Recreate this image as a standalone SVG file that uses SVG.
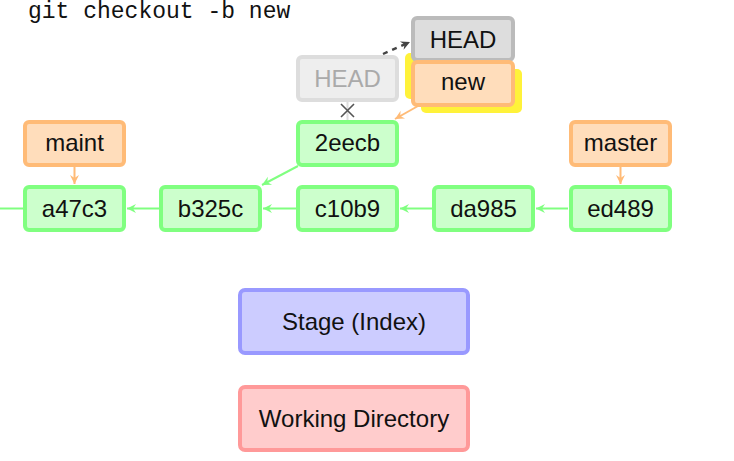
<svg xmlns="http://www.w3.org/2000/svg" width="734" height="461" viewBox="0 0 734 461">
<defs>
<style>
text{font-family:"Liberation Sans",Arial,sans-serif;font-size:24px;text-anchor:middle;fill:#111}
.commit rect{fill:#ccffcc;stroke:#80ff80;stroke-width:4}
.branch rect{fill:#ffddbb;stroke:#ffbb77;stroke-width:4}
.head rect{fill:#dddddd;stroke:#bbbbbb;stroke-width:4}
.oldhead rect{fill:#eeeeee;stroke:#dddddd;stroke-width:4}
.oldhead text{fill:#aaaaaa}
.hl{fill:#fff23a}
.gl{stroke:#80ff80;stroke-width:2;fill:none}
.ol{stroke:#ffbb77;stroke-width:2;fill:none}
.cmd{font-family:"Liberation Mono","Courier New",monospace;font-size:23px;text-anchor:start}
</style>
<marker id="ag" markerUnits="userSpaceOnUse" markerWidth="14" markerHeight="12" refX="10" refY="6" orient="auto" viewBox="0 0 14 12"><path d="M10,6 L1,1.5 L4,6 L1,10.5 Z" fill="#80ff80"/></marker>
<marker id="ao" markerUnits="userSpaceOnUse" markerWidth="14" markerHeight="12" refX="10" refY="6" orient="auto" viewBox="0 0 14 12"><path d="M10,6 L1,1.5 L4,6 L1,10.5 Z" fill="#ffbb77"/></marker>
<marker id="ad" markerUnits="userSpaceOnUse" markerWidth="14" markerHeight="12" refX="10" refY="6" orient="auto" viewBox="0 0 14 12"><path d="M10,6 L1,1.5 L4,6 L1,10.5 Z" fill="#444444"/></marker>
</defs>
<rect width="734" height="461" fill="#ffffff"/>
<text class="cmd" x="28" y="18">git checkout -b new</text>

<g id="highlight">
<rect class="hl" x="405" y="53" width="103" height="46" rx="5"/>
<rect class="hl" x="421" y="69" width="101" height="44" rx="5"/>
</g>

<g id="connectors">
<line class="gl" x1="0" y1="208.5" x2="23" y2="208.5"/>
<line class="gl" x1="159" y1="208.5" x2="127" y2="208.5" marker-end="url(#ag)"/>
<line class="gl" x1="296" y1="208.5" x2="263" y2="208.5" marker-end="url(#ag)"/>
<line class="gl" x1="432" y1="208.5" x2="400" y2="208.5" marker-end="url(#ag)"/>
<line class="gl" x1="568" y1="208.5" x2="536" y2="208.5" marker-end="url(#ag)"/>
<line class="gl" x1="298" y1="166" x2="262" y2="185" marker-end="url(#ag)"/>
<line class="ol" x1="74.5" y1="167" x2="74.5" y2="184" marker-end="url(#ao)"/>
<line class="ol" x1="620.5" y1="167" x2="620.5" y2="184" marker-end="url(#ao)"/>
<line class="ol" x1="418" y1="106" x2="395" y2="119" marker-end="url(#ao)"/>
<line x1="347.5" y1="101" x2="347.5" y2="120" stroke="#dddddd" stroke-width="2"/>
<path d="M341,104 L354,117 M354,104 L341,117" stroke="#555555" stroke-width="1.6" fill="none"/>
<line x1="383" y1="54" x2="410" y2="42" stroke="#444444" stroke-width="2.4" stroke-dasharray="5,5" marker-end="url(#ad)"/>
</g>

<g id="oldhead" class="oldhead"><rect x="298" y="57" width="99" height="43" rx="4"/><text x="347.5" y="87">HEAD</text></g>
<g id="head" class="head"><rect x="413" y="18" width="100" height="42" rx="4"/><text x="463" y="48">HEAD</text></g>
<g id="new" class="branch"><rect x="413" y="62" width="100" height="43" rx="4"/><text x="463" y="90">new</text></g>

<g id="maint" class="branch"><rect x="25" y="122" width="99" height="43" rx="4"/><text x="74.5" y="151">maint</text></g>
<g id="c2eecb" class="commit"><rect x="298" y="122" width="99" height="43" rx="4"/><text x="347.5" y="151">2eecb</text></g>
<g id="master" class="branch"><rect x="571" y="122" width="99" height="43" rx="4"/><text x="620.5" y="151">master</text></g>

<g id="a47c3" class="commit"><rect x="25" y="187" width="99" height="43" rx="4"/><text x="74.5" y="217">a47c3</text></g>
<g id="b325c" class="commit"><rect x="161" y="187" width="99" height="43" rx="4"/><text x="210.5" y="217">b325c</text></g>
<g id="c10b9" class="commit"><rect x="298" y="187" width="99" height="43" rx="4"/><text x="347.5" y="217">c10b9</text></g>
<g id="da985" class="commit"><rect x="434" y="187" width="99" height="43" rx="4"/><text x="483.5" y="217">da985</text></g>
<g id="ed489" class="commit"><rect x="571" y="187" width="99" height="43" rx="4"/><text x="620.5" y="217">ed489</text></g>

<g id="stage"><rect x="240" y="290" width="228" height="63" rx="5" fill="#ccccff" stroke="#9999ff" stroke-width="4"/><text x="354" y="330">Stage (Index)</text></g>
<g id="workdir"><rect x="240" y="387" width="228" height="63" rx="5" fill="#ffcccc" stroke="#ff9999" stroke-width="4"/><text x="354" y="427">Working Directory</text></g>
</svg>
